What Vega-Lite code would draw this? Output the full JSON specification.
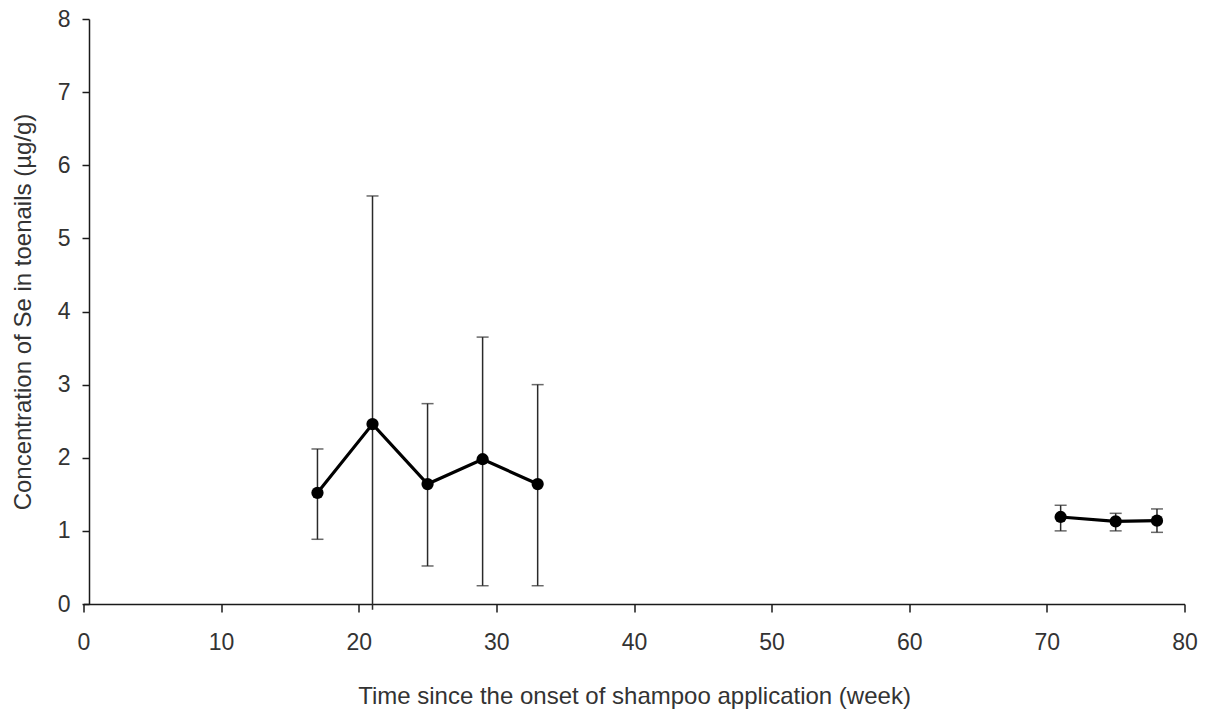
{
  "$schema": "https://vega.github.io/schema/vega-lite/v6.json",
  "width": 1101,
  "height": 585,
  "autosize": "none",
  "padding": {"left": 83.5, "top": 19, "right": 23.5, "bottom": 111},
  "background": "white",
  "config": {
    "view": {"stroke": null},
    "font": "Liberation Sans",
    "axis": {
      "grid": false,
      "domainColor": "#1a1a1a",
      "domainWidth": 1.5,
      "tickColor": "#1a1a1a",
      "tickWidth": 1.5,
      "labelFont": "Liberation Sans",
      "labelFontSize": 23,
      "labelColor": "#333333",
      "titleFont": "Liberation Sans",
      "titleFontSize": 24,
      "titleFontWeight": "normal",
      "titleColor": "#333333"
    }
  },
  "data": {
    "values": [
      {"week": 17, "mean": 1.52, "lo": 0.885, "hi": 2.12, "series": "A"},
      {"week": 21, "mean": 2.46, "lo": -0.08, "hi": 5.58, "series": "A"},
      {"week": 25, "mean": 1.64, "lo": 0.52, "hi": 2.74, "series": "A"},
      {"week": 29, "mean": 1.98, "lo": 0.25, "hi": 3.65, "series": "A"},
      {"week": 33, "mean": 1.64, "lo": 0.25, "hi": 3.0, "series": "A"},
      {"week": 71, "mean": 1.19, "lo": 1.0, "hi": 1.35, "series": "B"},
      {"week": 75, "mean": 1.13, "lo": 1.0, "hi": 1.24, "series": "B"},
      {"week": 78, "mean": 1.14, "lo": 0.98, "hi": 1.3, "series": "B"}
    ]
  },
  "encoding": {
    "x": {
      "field": "week",
      "type": "quantitative",
      "scale": {"domain": [0, 80], "nice": false, "zero": false},
      "axis": {
        "title": "Time since the onset of shampoo application (week)",
        "values": [0, 10, 20, 30, 40, 50, 60, 70, 80],
        "format": "d",
        "tickSize": 8,
        "labelPadding": 37,
        "labelBaseline": "alphabetic",
        "labelFlush": false,
        "titleBaseline": "alphabetic",
        "titleY": 99
      }
    }
  },
  "layer": [
    {
      "mark": {"type": "rule", "color": "#2a2a2a", "strokeWidth": 1.5},
      "encoding": {
        "y": {
          "field": "lo",
          "type": "quantitative",
          "scale": {"domain": [0, 8], "nice": false, "zero": false},
          "axis": {
            "title": "Concentration of Se in toenails (µg/g)",
            "values": [0, 1, 2, 3, 4, 5, 6, 7, 8],
            "format": "d",
            "offset": -5.5,
            "tickSize": 7,
            "labelPadding": 12,
            "labelBaseline": "middle",
            "labelFlush": false,
            "titleAngle": -90,
            "titleBaseline": "middle",
            "titleX": -66
          }
        },
        "y2": {"field": "hi"}
      }
    },
    {
      "mark": {"type": "tick", "orient": "horizontal", "color": "#2a2a2a", "thickness": 1.5, "size": 12},
      "encoding": {"y": {"field": "hi", "type": "quantitative"}}
    },
    {
      "transform": [{"filter": "datum.lo >= 0"}],
      "mark": {"type": "tick", "orient": "horizontal", "color": "#2a2a2a", "thickness": 1.5, "size": 12},
      "encoding": {"y": {"field": "lo", "type": "quantitative"}}
    },
    {
      "mark": {"type": "line", "color": "#000000", "strokeWidth": 3.2},
      "encoding": {
        "y": {"field": "mean", "type": "quantitative"},
        "detail": {"field": "series"}
      }
    },
    {
      "mark": {"type": "point", "filled": true, "shape": "circle", "color": "#000000", "opacity": 1, "size": 150},
      "encoding": {"y": {"field": "mean", "type": "quantitative"}}
    }
  ]
}
